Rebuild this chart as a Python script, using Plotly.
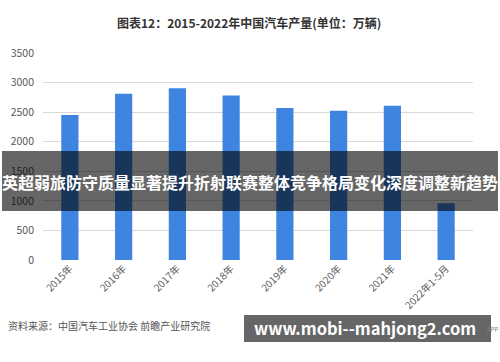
import plotly.graph_objects as go

categories = ["2015年", "2016年", "2017年", "2018年", "2019年", "2020年", "2021年", "2022年1-5月"]
production = [2450, 2812, 2902, 2781, 2572, 2523, 2608, 961]
y_ticks = [0, 500, 1000, 1500, 2000, 2500, 3000, 3500]

title_text = "图表12：2015-2022年中国汽车产量(单位：万辆)"
overlay_text = "英超弱旅防守质量显著提升折射联赛整体竞争格局变化深度调整新趋势"
source_text = "资料来源：中国汽车工业协会 前瞻产业研究院"
site_text = "www.mobi--mahjong2.com"

FONT = "Noto Sans CJK SC, Noto Sans, sans-serif"

L, R, T, B = 43, 27, 53, 102
W, H = 500, 362
pw, ph = W - L - R, H - T - B

def px(x):
    return (x - L) / pw

def py(y):
    return (H - B - y) / ph

fig = go.Figure(go.Bar(
    x=categories, y=production,
    marker=dict(color="#3d85e0", line=dict(width=0)),
    width=0.32,
))

fig.update_layout(
    width=W, height=H,
    margin=dict(l=L, r=R, t=T, b=B),
    paper_bgcolor="white", plot_bgcolor="white",
    showlegend=False,
    font=dict(family=FONT, color="#595959"),
    xaxis=dict(
        tickangle=-45, tickfont=dict(size=10, color="#595959"),
        showgrid=False, showline=False, ticks="", zeroline=False, automargin=False,
    ),
    yaxis=dict(
        range=[0, 3500], tickvals=y_ticks, tickfont=dict(size=10.5, color="#595959"),
        showgrid=True, gridcolor="#d9d9d9", gridwidth=1, zeroline=False,
        showline=False, ticks="", ticklabelstandoff=8, automargin=False,
    ),
    shapes=[
        dict(type="rect", xref="paper", yref="paper", layer="above",
             x0=px(2), x1=px(498), y0=py(211), y1=py(151),
             fillcolor="rgba(0,0,0,0.6)", line=dict(width=0)),
        dict(type="rect", xref="paper", yref="paper", layer="above",
             x0=px(244), x1=px(491), y0=py(342), y1=py(315),
             fillcolor="rgba(0,0,0,0.6)", line=dict(width=0)),
    ],
    annotations=[
        dict(text="<b>" + title_text + "</b>", xref="paper", yref="paper",
             x=px(249), y=py(22), xanchor="center", yanchor="middle", showarrow=False,
             font=dict(size=12, color="#333333", family=FONT)),
        dict(text="<b>" + overlay_text + "</b>", xref="paper", yref="paper",
             x=px(250), y=py(182), xanchor="center", yanchor="middle", showarrow=False,
             font=dict(size=16, color="white", family=FONT)),
        dict(text=source_text, xref="paper", yref="paper",
             x=px(6), y=py(325), xanchor="left", yanchor="middle", showarrow=False,
             font=dict(size=10, color="#555555", family=FONT)),
        dict(text="<b>" + site_text + "</b>", xref="paper", yref="paper",
             x=px(252), y=py(328), xanchor="left", yanchor="middle", showarrow=False,
             font=dict(size=16.5, color="white", family=FONT)),
        dict(text="APP", xref="paper", yref="paper",
             x=px(485), y=py(329), xanchor="left", yanchor="middle", showarrow=False,
             font=dict(size=6, color="#888888", family=FONT)),
    ],
)

fig.write_html("out.html", config={"displayModeBar": False},
               post_script="document.body.style.margin='0';")
